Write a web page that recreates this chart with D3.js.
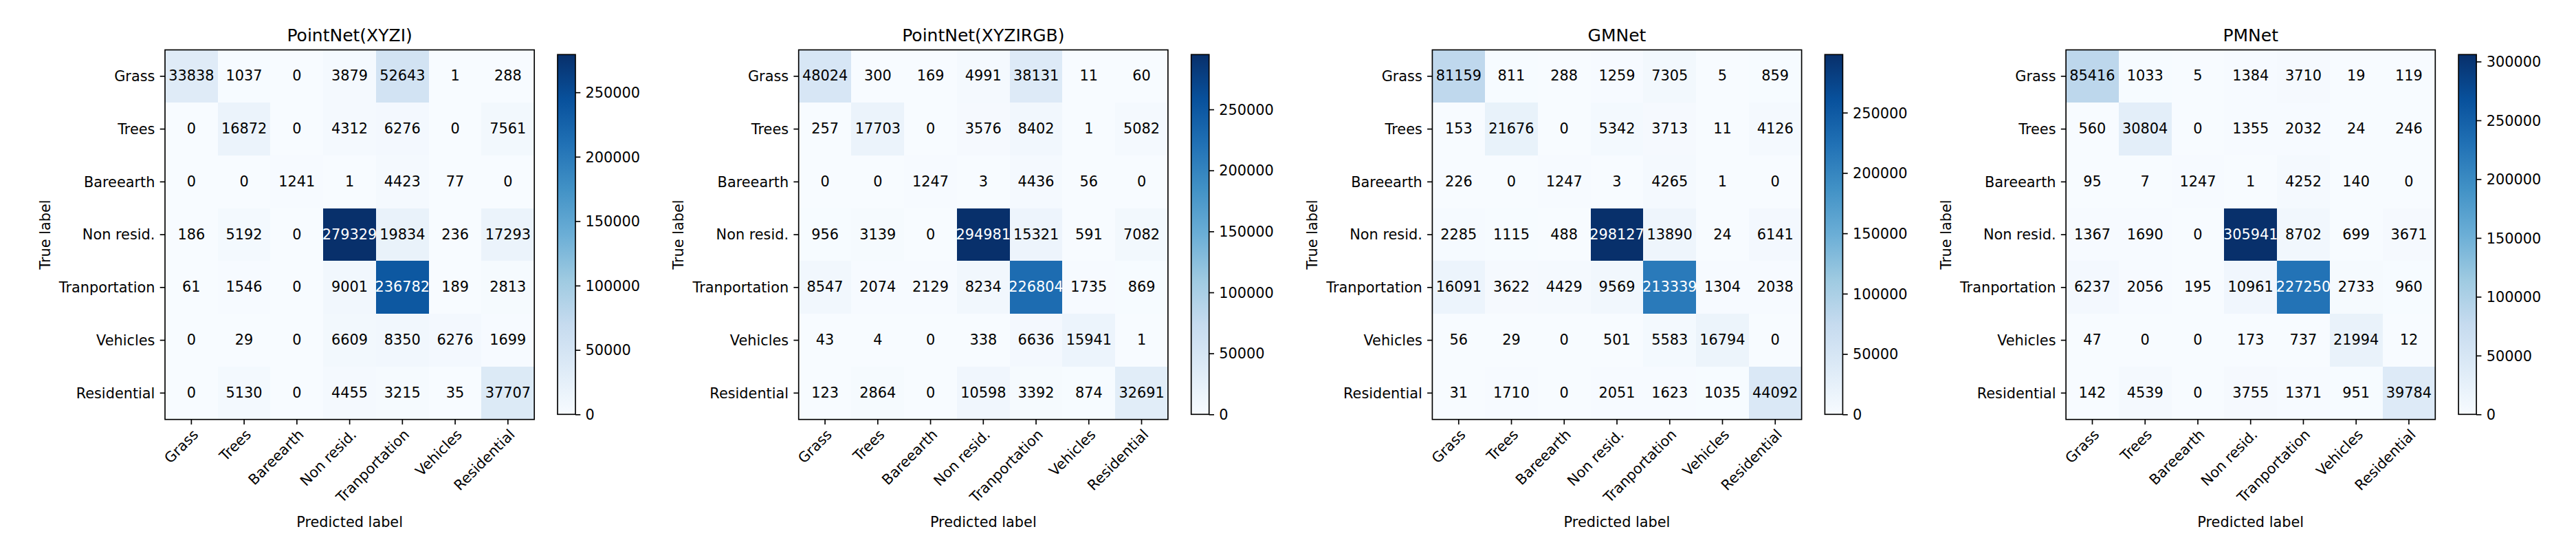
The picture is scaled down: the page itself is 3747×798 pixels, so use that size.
<!DOCTYPE html>
<html>
<head>
<meta charset="utf-8">
<script src="https://cdn.jsdelivr.net/npm/d3@7"></script>
<style>
  html, body { margin: 0; padding: 0; background: #fff; }
  svg { display: block; }
  text { font-family: "DejaVu Sans", sans-serif; }
</style>
</head>
<body>
<div id="chart"></div>
<script>
// class names (rows = true, cols = predicted)
const classes = ["Grass", "Trees", "Bareearth", "Non resid.", "Tranportation", "Vehicles", "Residential"];
const titles = ["PointNet(XYZI)", "PointNet(XYZIRGB)", "GMNet", "PMNet"];

const cmPointNetXYZI = [
  [33838, 1037, 0, 3879, 52643, 1, 288],
  [0, 16872, 0, 4312, 6276, 0, 7561],
  [0, 0, 1241, 1, 4423, 77, 0],
  [186, 5192, 0, 279329, 19834, 236, 17293],
  [61, 1546, 0, 9001, 236782, 189, 2813],
  [0, 29, 0, 6609, 8350, 6276, 1699],
  [0, 5130, 0, 4455, 3215, 35, 37707]
];
const cmPointNetXYZIRGB = [
  [48024, 300, 169, 4991, 38131, 11, 60],
  [257, 17703, 0, 3576, 8402, 1, 5082],
  [0, 0, 1247, 3, 4436, 56, 0],
  [956, 3139, 0, 294981, 15321, 591, 7082],
  [8547, 2074, 2129, 8234, 226804, 1735, 869],
  [43, 4, 0, 338, 6636, 15941, 1],
  [123, 2864, 0, 10598, 3392, 874, 32691]
];
const cmGMNet = [
  [81159, 811, 288, 1259, 7305, 5, 859],
  [153, 21676, 0, 5342, 3713, 11, 4126],
  [226, 0, 1247, 3, 4265, 1, 0],
  [2285, 1115, 488, 298127, 13890, 24, 6141],
  [16091, 3622, 4429, 9569, 213339, 1304, 2038],
  [56, 29, 0, 501, 5583, 16794, 0],
  [31, 1710, 0, 2051, 1623, 1035, 44092]
];
const cmPMNet = [
  [85416, 1033, 5, 1384, 3710, 19, 119],
  [560, 30804, 0, 1355, 2032, 24, 246],
  [95, 7, 1247, 1, 4252, 140, 0],
  [1367, 1690, 0, 305941, 8702, 699, 3671],
  [6237, 2056, 195, 10961, 227250, 2733, 960],
  [47, 0, 0, 173, 737, 21994, 12],
  [142, 4539, 0, 3755, 1371, 951, 39784]
];
const matrices = [cmPointNetXYZI, cmPointNetXYZIRGB, cmGMNet, cmPMNet];
const colorbarStep = 50000;

// matplotlib "Blues" anchor colours
const blues = ["#f7fbff", "#deebf7", "#c6dbef", "#9ecae1", "#6baed6", "#4292c6", "#2171b5", "#08519c", "#08306b"];

const W = 3747, H = 798;
const FS = 20.83;          // 10pt at 150 dpi
const lw = 1.67;           // 0.8pt line
const size = 537.2;        // matrix side
const topY = 72.5;
const firstLeft = 240, panelStep = 921.7;
const tickLen = 7.3, tickPad = 7.3;

const svg = d3.select("#chart").append("svg")
  .attr("width", W).attr("height", H)
  .attr("viewBox", `0 0 ${W} ${H}`);
svg.append("rect").attr("width", W).attr("height", H).attr("fill", "#fff");
const defs = svg.append("defs");

matrices.forEach((cm, p) => {
  const left = firstLeft + p * panelStep;
  const g = svg.append("g").attr("transform", `translate(${left},${topY})`);

  const x = d3.scaleBand().domain(classes).range([0, size]);
  const y = d3.scaleBand().domain(classes).range([0, size]);

  const vmin = d3.min(cm.flat()), vmax = d3.max(cm.flat());
  const color = d3.scaleLinear()
    .domain(blues.map((_, k) => vmin + k / (blues.length - 1) * (vmax - vmin)))
    .range(blues)
    .interpolate(d3.interpolateRgb);

  const cells = cm.flatMap((row, i) => row.map((v, j) => ({ t: classes[i], pr: classes[j], v })));

  g.selectAll("rect.cell")
    .data(cells)
    .join("rect")
    .attr("class", "cell")
    .attr("x", d => x(d.pr))
    .attr("y", d => y(d.t))
    .attr("width", x.bandwidth() + 0.5)
    .attr("height", y.bandwidth() + 0.5)
    .attr("fill", d => color(d.v))
    .attr("shape-rendering", "crispEdges");

  // white text on the dark half of the colour range
  const thresh = vmax / 2;
  g.selectAll("text.val")
    .data(cells)
    .join("text")
    .attr("class", "val")
    .attr("x", d => x(d.pr) + x.bandwidth() / 2)
    .attr("y", d => y(d.t) + y.bandwidth() / 2)
    .attr("dy", "0.31em")
    .attr("text-anchor", "middle")
    .style("font-size", FS + "px")
    .attr("fill", d => d.v > thresh ? "#fff" : "#000")
    .text(d => d.v);

  // axes
  const xAxis = g.append("g")
    .attr("transform", `translate(0,${size})`)
    .call(d3.axisBottom(x).tickSize(tickLen).tickPadding(tickPad));
  const yAxis = g.append("g")
    .call(d3.axisLeft(y).tickSize(tickLen).tickPadding(tickPad));

  [xAxis, yAxis].forEach(a => {
    a.select(".domain").remove();
    a.selectAll(".tick line").attr("stroke", "#000").attr("stroke-width", lw);
    a.selectAll(".tick text").attr("fill", "#000").style("font-size", FS + "px")
      .style("font-family", "DejaVu Sans");
  });
  yAxis.selectAll(".tick text").attr("dy", "0.35em");

  const xLabY = tickLen + tickPad - 2.5;
  xAxis.selectAll(".tick text")
    .attr("y", 0)
    .attr("dy", "0.76em")
    .attr("text-anchor", "end")
    .attr("transform", `translate(0,${xLabY}) rotate(-45)`);

  // frame
  g.append("rect")
    .attr("width", size).attr("height", size)
    .attr("fill", "none").attr("stroke", "#000").attr("stroke-width", lw);

  // title
  g.append("text")
    .attr("x", size / 2)
    .attr("y", -12.5)
    .attr("text-anchor", "middle")
    .style("font-size", "25px")
    .text(titles[p]);

  // axis labels placed from measured tick label extents
  let maxYW = 0;
  yAxis.selectAll(".tick text").each(function () { maxYW = Math.max(maxYW, this.getComputedTextLength()); });
  let maxXW = 0;
  xAxis.selectAll(".tick text").each(function () { maxXW = Math.max(maxXW, this.getComputedTextLength()); });

  g.append("text")
    .attr("transform", `translate(${-(tickLen + tickPad + maxYW + 8.3 + 0.24 * FS)},${size / 2}) rotate(-90)`)
    .attr("text-anchor", "middle")
    .style("font-size", FS + "px")
    .text("True label");

  const xlabTop = size + tickLen + tickPad + 0.707 * (maxXW + FS) + 12;
  g.append("text")
    .attr("x", size / 2)
    .attr("y", xlabTop + 0.76 * FS)
    .attr("text-anchor", "middle")
    .style("font-size", FS + "px")
    .text("Predicted label");

  // colorbar
  const cbX = 571, cbW = 26, cbTop = 6.8, cbBottom = 529.8;
  const cb = d3.scaleLinear().domain([vmin, vmax]).range([cbBottom, cbTop]);
  const gradId = "grad" + p;
  const grad = defs.append("linearGradient")
    .attr("id", gradId)
    .attr("x1", 0).attr("y1", 1).attr("x2", 0).attr("y2", 0);
  grad.selectAll("stop")
    .data(blues)
    .join("stop")
    .attr("offset", (_, k) => k / (blues.length - 1))
    .attr("stop-color", c => c);

  g.append("rect")
    .attr("x", cbX).attr("y", cbTop)
    .attr("width", cbW).attr("height", cbBottom - cbTop)
    .attr("fill", `url(#${gradId})`);

  const cbTicks = d3.range(Math.ceil(vmin / colorbarStep) * colorbarStep, vmax + 1, colorbarStep);
  const cbAxis = g.append("g")
    .attr("transform", `translate(${cbX + cbW},0)`)
    .call(d3.axisRight(cb).tickValues(cbTicks).tickFormat(d3.format("d")).tickSize(tickLen).tickPadding(tickPad));
  cbAxis.select(".domain").remove();
  cbAxis.selectAll(".tick line").attr("stroke", "#000").attr("stroke-width", lw);
  cbAxis.selectAll(".tick text").attr("fill", "#000").attr("dy", "0.35em")
    .style("font-size", FS + "px").style("font-family", "DejaVu Sans");

  g.append("rect")
    .attr("x", cbX).attr("y", cbTop)
    .attr("width", cbW).attr("height", cbBottom - cbTop)
    .attr("fill", "none").attr("stroke", "#000").attr("stroke-width", lw);
});
</script>
</body>
</html>
